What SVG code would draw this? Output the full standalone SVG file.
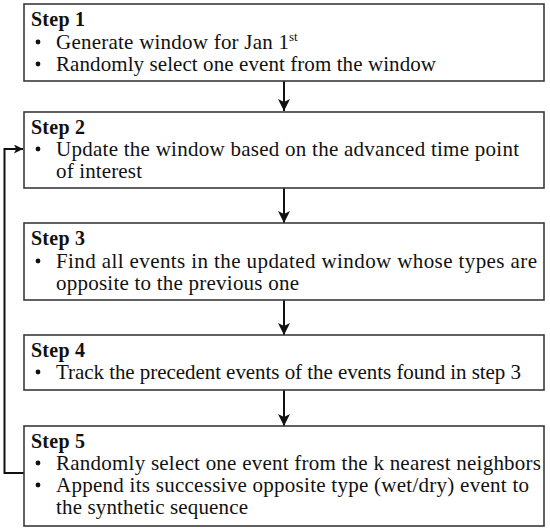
<svg xmlns="http://www.w3.org/2000/svg" width="550" height="532" viewBox="0 0 550 532">
<style>
.box{fill:#fff;stroke:#3a3a3a;stroke-width:1.6}
.t{font-family:"Liberation Serif","Times New Roman",serif;font-size:21px;fill:#111}
.h{font-family:"Liberation Serif","Times New Roman",serif;font-size:20px;font-weight:bold;fill:#111}
.sup{font-family:"Liberation Serif","Times New Roman",serif;font-size:13px;fill:#111}
.b{fill:#111}
.c{fill:none;stroke:#111;stroke-width:2}
</style>
<defs>
<marker id="ah" viewBox="0 0 10 10" refX="10" refY="5" markerWidth="6.5" markerHeight="6" markerUnits="strokeWidth" orient="auto">
<path d="M0,0 L10,5 L0,10 L2.5,5 z" fill="#111"/>
</marker>
<marker id="ah2" viewBox="0 0 10 10" refX="10" refY="5" markerWidth="4.5" markerHeight="4.5" markerUnits="strokeWidth" orient="auto">
<path d="M0,0 L10,5 L0,10 L2.5,5 z" fill="#111"/>
</marker>
</defs>
<rect width="550" height="532" fill="#fff"/>
<g id="connectors">
<line class="c" x1="284" y1="81" x2="284" y2="111" marker-end="url(#ah)"/>
<line class="c" x1="284" y1="188" x2="284" y2="223" marker-end="url(#ah)"/>
<line class="c" x1="284" y1="300" x2="284" y2="335" marker-end="url(#ah)"/>
<line class="c" x1="284" y1="390" x2="284" y2="426" marker-end="url(#ah)"/>
<polyline class="c" points="24,473 4.5,473 4.5,149 23,149" marker-end="url(#ah2)"/>
</g>
<g id="step1">
<rect class="box" x="24" y="4" width="520" height="77"/>
<text class="h" x="31" y="26" textLength="54">Step 1</text>
<circle class="b" cx="38" cy="42" r="2.4"/>
<text class="t" x="56" y="49" textLength="233">Generate window for Jan 1</text>
<text class="sup" x="289" y="41">st</text>
<circle class="b" cx="38" cy="64" r="2.4"/>
<text class="t" x="56" y="71" textLength="380">Randomly select one event from the window</text>
</g>
<g id="step2">
<rect class="box" x="24" y="112" width="520" height="76"/>
<text class="h" x="31" y="134" textLength="54">Step 2</text>
<circle class="b" cx="38" cy="149" r="2.4"/>
<text class="t" x="56" y="156" textLength="463">Update the window based on the advanced time point</text>
<text class="t" x="56" y="178" textLength="86">of interest</text>
</g>
<g id="step3">
<rect class="box" x="24" y="223" width="520" height="77"/>
<text class="h" x="31" y="245" textLength="54">Step 3</text>
<circle class="b" cx="38" cy="261" r="2.4"/>
<text class="t" x="56" y="268" textLength="481">Find all events in the updated window whose types are</text>
<text class="t" x="56" y="290" textLength="243">opposite to the previous one</text>
</g>
<g id="step4">
<rect class="box" x="24" y="335" width="520" height="55"/>
<text class="h" x="31" y="357" textLength="54">Step 4</text>
<circle class="b" cx="38" cy="372" r="2.4"/>
<text class="t" x="56" y="379" textLength="465">Track the precedent events of the events found in step 3</text>
</g>
<g id="step5">
<rect class="box" x="24" y="426" width="520" height="100"/>
<text class="h" x="31" y="448" textLength="54">Step 5</text>
<circle class="b" cx="38" cy="463" r="2.4"/>
<text class="t" x="56" y="470" textLength="485">Randomly select one event from the k nearest neighbors</text>
<circle class="b" cx="38" cy="485" r="2.4"/>
<text class="t" x="56" y="492" textLength="473">Append its successive opposite type (wet/dry) event to</text>
<text class="t" x="56" y="514" textLength="192">the synthetic sequence</text>
</g>
</svg>
